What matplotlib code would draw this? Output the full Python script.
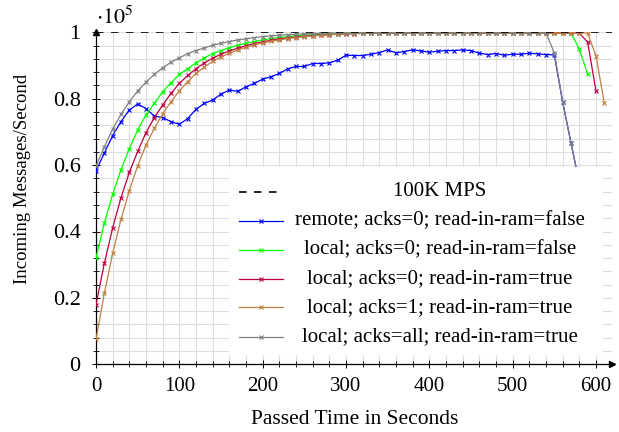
import numpy as np
import matplotlib
matplotlib.use("Agg")
import matplotlib.pyplot as plt
from matplotlib.lines import Line2D
from matplotlib.patches import Rectangle
from matplotlib.ticker import MultipleLocator

plt.rcParams['font.family'] = ['Liberation Serif', 'DejaVu Serif']
plt.rcParams['mathtext.fontset'] = 'stix'

SCALE = 1e5  # messages per second shown as multiples of 10^5

# ---- data (incoming messages / second, one sample every 10 s) ----
t_step = 10
remote_acks0_false = [
    58300, 63600, 68900, 73100, 76600, 78400, 77000, 74800, 74300, 73100,
    72300, 74000, 76800, 78600, 79600, 81400, 82600, 82200, 83600, 84600,
    85900, 86600, 87600, 89000, 89700, 89700, 90600, 90600, 90800, 91600,
    93100, 93000, 93000, 93400, 93900, 94700, 93800, 94200, 94700, 94400,
    94000, 94300, 94500, 94500, 94700, 94500, 93700, 93300, 93600, 93100,
    93400, 93400, 93700, 93500, 93300, 93200, 79000, 66700, 54500]
local_acks0_false = [
    32100, 42500, 51200, 58600, 65000, 70600, 75100, 78600, 82100, 84800,
    87300, 89000, 90800, 92300, 93600, 94500, 95400, 96100, 96700, 97200,
    97700, 98100, 98400, 98700, 98900, 99100, 99300, 99400, 99500, 99600,
    99700, 99800, 99800, 99800, 99800, 99800, 99800, 99800, 99800, 99800,
    99800, 99800, 99800, 99800, 99800, 99800, 99800, 99800, 99800, 99800,
    99800, 99800, 99800, 99800, 99800, 99800, 99800, 99800, 94900, 87300]
local_acks0_true = [
    17900, 30400, 41100, 50200, 57800, 64100, 69800, 74300, 78100, 81600,
    84600, 87000, 89000, 90800, 92200, 93400, 94400, 95200, 96000, 96600,
    97100, 97600, 98000, 98300, 98600, 98800, 99000, 99200, 99300, 99400,
    99500, 99600, 99700, 99800, 99800, 99800, 99800, 99800, 99800, 99800,
    99800, 99800, 99800, 99800, 99800, 99800, 99800, 99800, 99800, 99800,
    99800, 99800, 99800, 99800, 99800, 99800, 99800, 99800, 99800, 97000,
    82300]
local_acks1_true = [
    7500, 21400, 33400, 43700, 52300, 59800, 66000, 71100, 75400, 79100,
    82400, 85100, 87600, 89500, 91300, 92600, 93700, 94700, 95500, 96200,
    96800, 97300, 97700, 98100, 98400, 98700, 98900, 99100, 99300, 99400,
    99500, 99600, 99700, 99800, 99800, 99800, 99800, 99800, 99800, 99800,
    99800, 99800, 99800, 99800, 99800, 99800, 99800, 99800, 99800, 99800,
    99800, 99800, 99800, 99800, 99800, 99800, 99800, 99800, 99800, 99800,
    92900, 78600]
local_acksall_true = [
    59700, 65500, 70900, 75300, 79100, 82300, 85000, 87300, 89300, 91000,
    92300, 93600, 94500, 95300, 96100, 96700, 97200, 97700, 98000, 98400,
    98700, 98900, 99100, 99300, 99400, 99500, 99600, 99700, 99800, 99800,
    99800, 99800, 99800, 99800, 99800, 99800, 99800, 99800, 99800, 99800,
    99800, 99800, 99800, 99800, 99800, 99800, 99800, 99800, 99800, 99800,
    99800, 99800, 99800, 99800, 99800, 93800, 79000, 66700, 54500]
target_mps = 100000

series = [
    ("remote; acks=0; read-in-ram=false", remote_acks0_false, "#0000ff"),
    ("local; acks=0; read-in-ram=false", local_acks0_false, "#00ff00"),
    ("local; acks=0; read-in-ram=true", local_acks0_true, "#bf0040"),
    ("local; acks=1; read-in-ram=true", local_acks1_true, "#bf8040"),
    ("local; acks=all; read-in-ram=true", local_acksall_true, "#808080"),
]
target_label = "100K MPS"

x_ticks = [0, 100, 200, 300, 400, 500, 600]
y_ticks = [0, 0.2, 0.4, 0.6, 0.8, 1.0]
y_ticklabels = ["0", "0.2", "0.4", "0.6", "0.8", "1"]

# ---- figure ----
W, H = 619, 432
fig = plt.figure(figsize=(W / 100, H / 100), dpi=100)
ax_l, ax_r = 96, 612
ax_t, ax_b = 32.3, 364.3
ax = fig.add_axes([ax_l / W, (H - ax_b) / H, (ax_r - ax_l) / W, (ax_b - ax_t) / H])
ax.set_xlim(0, 600 * (ax_r - ax_l) / (596 - ax_l))
ax.set_ylim(0, 1.0)

grid_c = "#dedede"
ax.xaxis.set_major_locator(MultipleLocator(100))
ax.xaxis.set_minor_locator(MultipleLocator(20))
ax.yaxis.set_major_locator(MultipleLocator(0.2))
ax.yaxis.set_minor_locator(MultipleLocator(0.04))
ax.grid(True, which="both", color=grid_c, lw=0.8, zorder=0)
ax.set_axisbelow(True)
ax.set_xticks(x_ticks)
ax.set_yticks(y_ticks)
ax.set_yticklabels(y_ticklabels)
ax.tick_params(which="major", direction="inout", length=6, width=0.7)
ax.tick_params(axis="x", which="major", pad=6, labelsize=15)
ax.tick_params(axis="y", which="major", pad=8, labelsize=16)
ax.tick_params(which="minor", direction="inout", length=4, width=0.6)

for s in ["top", "right"]:
    ax.spines[s].set_visible(False)
for s in ["left", "bottom"]:
    ax.spines[s].set_linewidth(0.9)
ax.plot(1, 0, marker=">", color="k", ms=5, transform=ax.transAxes, clip_on=False, zorder=10)
ax.plot(0, 1, marker="^", color="k", ms=5, transform=ax.transAxes, clip_on=False, zorder=10)

ax.axhline(target_mps / SCALE, color="k", lw=1.2, dashes=(4.5, 4.5), zorder=4)

for label, vals, col in series:
    v = np.array(vals) / SCALE
    t = np.arange(len(v)) * t_step
    ax.plot(t, v, color=col, lw=0.9, marker="x", ms=3.5, mew=0.8, zorder=3)

ax.set_xlabel("Passed Time in Seconds", fontsize=15.5)
ax.set_ylabel("Incoming Messages/Second", fontsize=13.5)
ax.xaxis.set_label_coords((355 - ax_l) / (ax_r - ax_l), (ax_b - 420) / (ax_b - ax_t))
ax.xaxis.label.set_va("center")
ax.yaxis.set_label_coords((23 - ax_l) / (ax_r - ax_l), (ax_b - 179) / (ax_b - ax_t))
ax.yaxis.label.set_va("center")
fig.text(96 / W, 1 - 24 / H, r"$\cdot 10^5$", fontsize=16, ha="left", va="baseline")

# ---- legend (centered text cells) ----
def fx(px):
    return (px - ax_l) / (ax_r - ax_l)

def fy(py):
    return (ax_b - py) / (ax_b - ax_t)

lg_l, lg_r, lg_t, lg_b = 229, 603, 167, 355
ax.add_patch(Rectangle((fx(lg_l), fy(lg_b)), fx(lg_r) - fx(lg_l), fy(lg_t) - fy(lg_b),
                       transform=ax.transAxes, facecolor="white", edgecolor="none",
                       zorder=20, clip_on=False))
rows_y = [191.7, 220.7, 249.7, 278.7, 307.3, 336.7]
h0, h1 = 239, 283
text_cx = 440
ax.add_line(Line2D([fx(h0), fx(279)], [fy(rows_y[0])] * 2, color="k", lw=1.2,
                   dashes=(4.5, 4.5), transform=ax.transAxes, zorder=21))
ax.text(fx(text_cx), fy(rows_y[0]), target_label, transform=ax.transAxes,
        ha="center", va="center", fontsize=15, zorder=22)
for (label, vals, col), yy in zip(series, rows_y[1:]):
    ax.add_line(Line2D([fx(h0), fx(h1)], [fy(yy)] * 2, color=col, lw=0.9,
                       transform=ax.transAxes, zorder=21))
    ax.add_line(Line2D([fx((h0 + h1) / 2)], [fy(yy)], color=col, marker="x", ms=2.5,
                       mew=0.8, transform=ax.transAxes, zorder=21))
    ax.text(fx(text_cx), fy(yy), label, transform=ax.transAxes,
            ha="center", va="center", fontsize=15, zorder=22)

fig.savefig("out.png", dpi=100)
